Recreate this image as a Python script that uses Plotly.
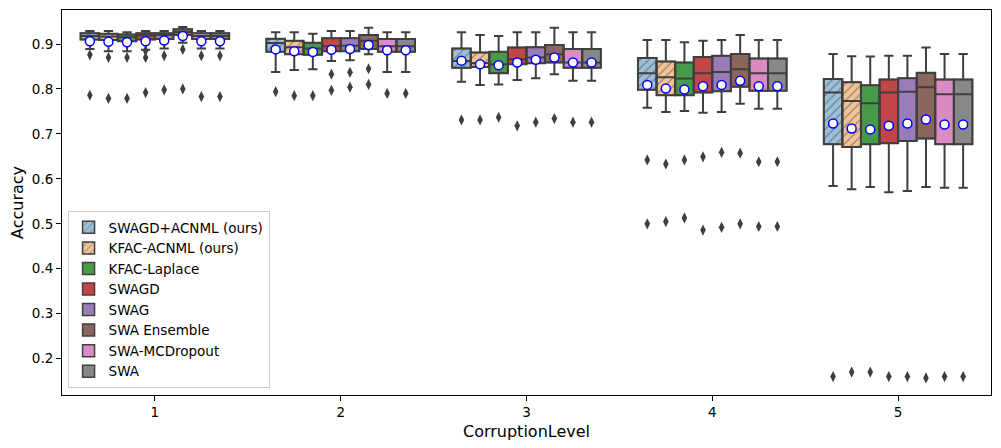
import plotly.graph_objects as go

levels = ["1", "2", "3", "4", "5"]
methods = ["SWAGD+ACNML (ours)", "KFAC-ACNML (ours)", "KFAC-Laplace", "SWAGD",
           "SWAG", "SWA Ensemble", "SWA-MCDropout", "SWA"]
colors = ["#9DBFD8", "#F2C397", "#479A47", "#C24646", "#9A7DB8", "#8B665D", "#D98BC2", "#888888"]
hatched = [True, True, False, False, False, False, False, False]

# rows: methods, columns: corruption levels 1..5
whisk_hi = [
    [0.929, 0.926, 0.926, 0.909, 0.878],
    [0.929, 0.926, 0.920, 0.909, 0.873],
    [0.926, 0.923, 0.918, 0.904, 0.872],
    [0.929, 0.929, 0.926, 0.907, 0.874],
    [0.929, 0.929, 0.926, 0.909, 0.874],
    [0.938, 0.936, 0.936, 0.920, 0.892],
    [0.929, 0.926, 0.926, 0.909, 0.878],
    [0.929, 0.926, 0.926, 0.909, 0.878],
]
q3 = [
    [0.924, 0.912, 0.890, 0.869, 0.822],
    [0.923, 0.907, 0.881, 0.861, 0.815],
    [0.921, 0.903, 0.883, 0.859, 0.808],
    [0.924, 0.913, 0.892, 0.871, 0.821],
    [0.924, 0.913, 0.893, 0.874, 0.824],
    [0.933, 0.920, 0.898, 0.878, 0.836],
    [0.924, 0.911, 0.889, 0.868, 0.821],
    [0.924, 0.911, 0.889, 0.868, 0.821],
]
median = [
    [0.918, 0.902, 0.862, 0.835, 0.792],
    [0.917, 0.893, 0.858, 0.826, 0.773],
    [0.915, 0.890, 0.855, 0.823, 0.768],
    [0.919, 0.895, 0.866, 0.835, 0.792],
    [0.920, 0.896, 0.870, 0.838, 0.794],
    [0.927, 0.907, 0.877, 0.844, 0.804],
    [0.918, 0.895, 0.859, 0.835, 0.788],
    [0.918, 0.895, 0.859, 0.835, 0.788],
]
q1 = [
    [0.910, 0.883, 0.847, 0.798, 0.677],
    [0.909, 0.877, 0.849, 0.786, 0.671],
    [0.906, 0.876, 0.835, 0.786, 0.677],
    [0.910, 0.884, 0.855, 0.792, 0.679],
    [0.911, 0.884, 0.857, 0.795, 0.684],
    [0.920, 0.889, 0.859, 0.805, 0.690],
    [0.911, 0.883, 0.847, 0.796, 0.677],
    [0.911, 0.883, 0.847, 0.796, 0.677],
]
whisk_lo = [
    [0.889, 0.838, 0.816, 0.758, 0.584],
    [0.884, 0.842, 0.809, 0.749, 0.577],
    [0.884, 0.844, 0.810, 0.751, 0.582],
    [0.887, 0.862, 0.820, 0.747, 0.570],
    [0.890, 0.864, 0.824, 0.749, 0.573],
    [0.903, 0.877, 0.833, 0.767, 0.582],
    [0.890, 0.838, 0.818, 0.756, 0.580],
    [0.890, 0.838, 0.818, 0.756, 0.580],
]
means = [
    [0.906, 0.888, 0.863, 0.809, 0.723],
    [0.905, 0.884, 0.855, 0.801, 0.712],
    [0.904, 0.882, 0.853, 0.799, 0.710],
    [0.906, 0.887, 0.859, 0.806, 0.718],
    [0.908, 0.889, 0.865, 0.809, 0.723],
    [0.918, 0.898, 0.870, 0.818, 0.732],
    [0.906, 0.886, 0.859, 0.806, 0.721],
    [0.906, 0.886, 0.859, 0.806, 0.721],
]
outliers = [
    [[0.876, 0.786], [0.794], [0.731], [0.642, 0.500], [0.160]],
    [[0.870, 0.779], [0.785], [0.731], [0.633, 0.505], [0.170]],
    [[0.870, 0.779], [0.785], [0.737], [0.642, 0.513], [0.170]],
    [[0.885, 0.870, 0.792], [0.833, 0.797], [0.718], [0.649, 0.486], [0.160]],
    [[0.874, 0.798], [0.837, 0.804], [0.726], [0.659, 0.492], [0.160]],
    [[0.888, 0.800], [0.845, 0.810], [0.734], [0.657, 0.500], [0.157]],
    [[0.874, 0.783], [0.790], [0.726], [0.638, 0.494], [0.160]],
    [[0.874, 0.783], [0.790], [0.726], [0.638, 0.494], [0.160]],
]

n = len(methods)
group_w = 0.8
bw = group_w / n
edge = "#3f3f3f"

fig = go.Figure()

def xpos(j):
    return [i - group_w / 2 + bw * (j + 0.5) for i in range(len(levels))]

# box bodies (bars) - provide fill, hatch and legend
for j, m in enumerate(methods):
    pat = dict(shape="/", fgcolor=edge, size=6, solidity=0.2, fillmode="overlay") if hatched[j] else dict(shape="")
    fig.add_trace(go.Bar(
        x=xpos(j), y=[a - b for a, b in zip(q3[j], q1[j])], base=q1[j], width=bw,
        marker=dict(color=colors[j], line=dict(color=edge, width=1.5), pattern=pat),
        name=m, showlegend=True, hoverinfo="skip"))

# box outlines, medians, whiskers
for j, m in enumerate(methods):
    fig.add_trace(go.Box(
        x=xpos(j), q1=q1[j], median=median[j], q3=q3[j],
        lowerfence=whisk_lo[j], upperfence=whisk_hi[j],
        width=bw, whiskerwidth=0.5, fillcolor="rgba(0,0,0,0)",
        line=dict(color=edge, width=2), boxpoints=False, showlegend=False, name=m))

# outliers
for j, m in enumerate(methods):
    xs, ys = [], []
    for i, vals in enumerate(outliers[j]):
        for v in vals:
            xs.append(xpos(j)[i])
            ys.append(v)
    fig.add_trace(go.Scatter(x=xs, y=ys, mode="markers", showlegend=False,
                             marker=dict(symbol="diamond-tall", size=8, color=edge, line=dict(width=0))))

# means
for j, m in enumerate(methods):
    fig.add_trace(go.Scatter(x=xpos(j), y=means[j], mode="markers", showlegend=False,
                             marker=dict(symbol="circle", size=9, color="white",
                                         line=dict(color="#0000FF", width=1.5))))

fig.update_layout(
    width=993, height=440,
    margin=dict(l=54, r=10, t=2, b=53),
    plot_bgcolor="white", paper_bgcolor="white",
    barmode="overlay",
    font=dict(family="DejaVu Sans", size=13.5, color="black"),
    legend=dict(x=0.006, y=0.018, xanchor="left", yanchor="bottom",
                bgcolor="rgba(255,255,255,0.85)", bordercolor="#cccccc", borderwidth=1,
                font=dict(size=13.5), tracegroupgap=0, itemwidth=30),
)
fig.update_xaxes(range=[-0.5, 4.5], tickmode="array", tickvals=list(range(len(levels))),
                 ticktext=levels, title=dict(text="CorruptionLevel", standoff=6),
                 automargin=False, showgrid=False, zeroline=False,
                 showline=True, linecolor="black", linewidth=1, mirror=True,
                 ticks="outside", ticklen=5, tickcolor="black", tickfont=dict(size=13.5))
fig.update_yaxes(range=[0.119, 0.9757], tickmode="array",
                 tickvals=[0.2, 0.3, 0.4, 0.5, 0.6, 0.7, 0.8, 0.9],
                 ticktext=["0.2", "0.3", "0.4", "0.5", "0.6", "0.7", "0.8", "0.9"],
                 title=dict(text="Accuracy", standoff=8),
                 automargin=False, showgrid=False, zeroline=False,
                 showline=True, linecolor="black", linewidth=1, mirror=True,
                 ticks="outside", ticklen=5, tickcolor="black", tickfont=dict(size=13.5))

fig.write_html("out.html")
